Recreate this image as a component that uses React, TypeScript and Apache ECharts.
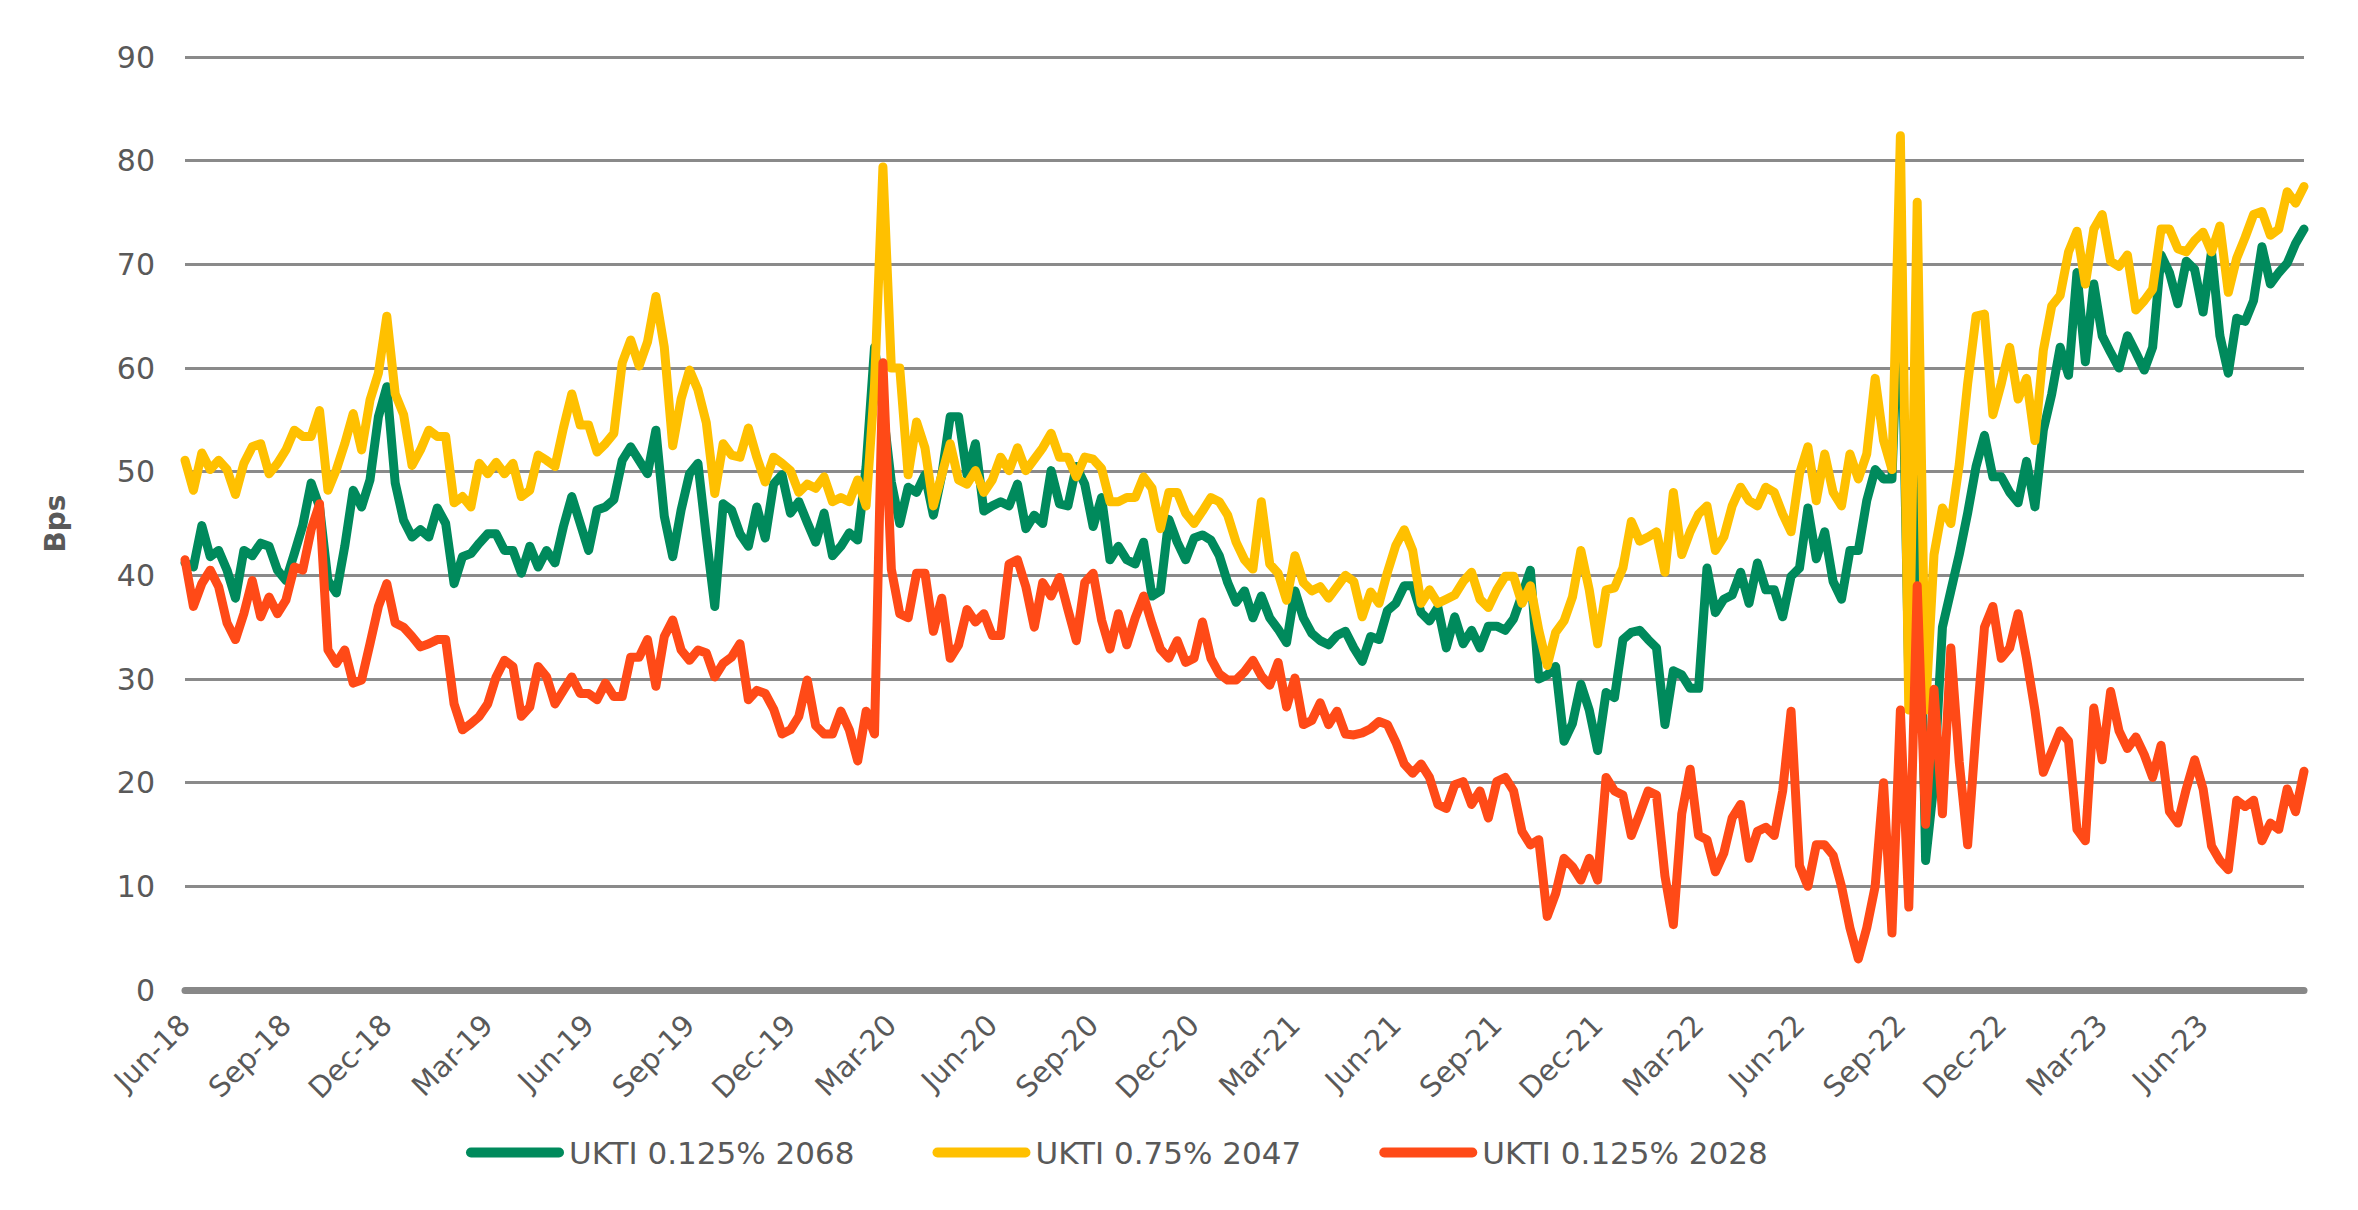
import React, { useEffect, useRef } from "react";
import * as echarts from "echarts";

// Quarter tick labels (every 3 months starting at end of Jun 2018)
const quarterLabels = [
  "Jun-18", "Sep-18", "Dec-18", "Mar-19", "Jun-19", "Sep-19", "Dec-19",
  "Mar-20", "Jun-20", "Sep-20", "Dec-20", "Mar-21", "Jun-21", "Sep-21",
  "Dec-21", "Mar-22", "Jun-22", "Sep-22", "Dec-22", "Mar-23", "Jun-23",
];

// Sampling step: values every quarter of a month from end of Jun-18
const stepMonths = 0.25;

// UKTI 0.125% 2068 (green), one row per month (4 weekly samples)
const ukti2068 = [
  41.2, 40.8, 44.8, 41.8,
  42.4, 40.5, 37.8, 42.4,
  41.9, 43.1, 42.8, 40.5,
  39.5, 42.1, 44.8, 48.9,
  46.6, 39.5, 38.3, 42.8,
  48.2, 46.6, 49.2, 55.3,
  58.2, 48.9, 45.3, 43.7,
  44.4, 43.7, 46.5, 45,
  39.2, 41.8, 42.1, 43.1,
  44, 44, 42.4, 42.4,
  40.2, 42.8, 40.8, 42.4,
  41.2, 44.7, 47.6, 45,
  42.4, 46.3, 46.6, 47.3,
  51.1, 52.4, 51.1, 49.8,
  54, 45.7, 41.8, 46.3,
  49.8, 50.8, 43.7, 37,
  46.9, 46.3, 44, 42.8,
  46.6, 43.6, 48.8, 49.7,
  46, 47.1, 45.1, 43.2,
  46, 41.9, 42.8, 44.1,
  43.4, 50.5, 62, 56,
  49, 45, 48.5, 48,
  49.7, 45.8, 49.7, 55.3,
  55.3, 49.7, 52.7, 46.2,
  46.7, 47.1, 46.7, 48.8,
  44.5, 45.8, 45, 50.1,
  46.9, 46.7, 50.5, 48.8,
  44.7, 47.5, 41.5, 42.8,
  41.5, 41.1, 43.2, 38,
  38.5, 45.4, 43.2, 41.5,
  43.6, 43.9, 43.4, 41.9,
  39.3, 37.4, 38.5, 35.9,
  38, 35.9, 34.8, 33.5,
  38.5, 35.9, 34.4, 33.7,
  33.3, 34.2, 34.6, 33,
  31.7, 34.1, 33.8, 36.6,
  37.3, 39, 39, 36.4,
  35.6, 36.9, 33, 36,
  33.4, 34.7, 33, 35.1,
  35.1, 34.7, 35.8, 38.1,
  40.5, 30, 30.4, 31.2,
  24, 25.7, 29.5, 27,
  23.1, 28.7, 28.2, 33.8,
  34.5, 34.7, 33.8, 33,
  25.6, 30.8, 30.4, 29.1,
  29.1, 40.7, 36.4, 37.7,
  38.1, 40.3, 37.3, 41.2,
  38.6, 38.6, 36, 39.9,
  40.7, 46.5, 41.6, 44.2,
  39.4, 37.7, 42.4, 42.4,
  47.2, 50.2, 49.3, 49.3,
  72, 30, 55, 12.5,
  20, 35, 38.5, 42,
  46, 50.5, 53.5, 49.5,
  49.5, 48, 47, 51,
  46.6, 54, 57.5, 62,
  59.3, 69.2, 60.6, 68.1,
  63.1, 61.5, 60, 63.1,
  61.5, 59.8, 62, 70.9,
  69.2, 66.2, 70.3, 69.5,
  65.4, 71.2, 63.1, 59.5,
  64.8, 64.5, 66.5, 71.7,
  68.1, 69.2, 70.1, 72,
  73.4,
];

// UKTI 0.75% 2047 (yellow)
const ukti2047 = [
  51.1, 48.2, 51.8, 50.2,
  51.1, 50.2, 47.8, 50.8,
  52.4, 52.7, 49.8, 50.8,
  52.1, 54, 53.4, 53.4,
  55.9, 48.2, 50.2, 52.7,
  55.6, 52.1, 56.9, 59.5,
  65, 57.5, 55.5, 50.6,
  52.1, 54, 53.4, 53.4,
  47, 47.6, 46.6, 50.8,
  49.8, 50.9, 49.8, 50.8,
  47.6, 48.2, 51.6, 51.1,
  50.5, 54.2, 57.5, 54.5,
  54.5, 51.9, 52.7, 53.7,
  60.5, 62.7, 60.2, 62.5,
  66.9, 62, 52.5, 57,
  59.8, 57.9, 54.7, 47.9,
  52.7, 51.6, 51.4, 54.2,
  51.4, 49, 51.4, 50.8,
  50.1, 48, 48.8, 48.4,
  49.5, 47.1, 47.5, 47.1,
  49.2, 46.7, 58.3, 79.4,
  60, 60, 49.7, 54.8,
  52.3, 46.7, 49.7, 52.7,
  49.2, 48.8, 50.1, 48,
  49.2, 51.4, 50.1, 52.3,
  50.1, 51.2, 52.3, 53.7,
  51.4, 51.4, 49.5, 51.4,
  51.2, 50.3, 47.1, 47.1,
  47.5, 47.5, 49.5, 48.4,
  44.5, 48, 48, 46,
  45, 46.2, 47.5, 47.1,
  45.8, 43.2, 41.5, 40.6,
  47.1, 41.1, 40.2, 37.6,
  41.9, 39.3, 38.5, 38.9,
  37.8, 38.9, 40, 39.4,
  36, 38.4, 37.3, 40.3,
  42.9, 44.4, 42.4, 37.3,
  38.6, 37.3, 37.7, 38.1,
  39.4, 40.3, 37.7, 36.9,
  38.6, 39.9, 39.9, 37.3,
  39, 34.7, 31.3, 34.5,
  35.6, 37.9, 42.4, 38.6,
  33.4, 38.6, 38.8, 40.7,
  45.2, 43.3, 43.7, 44.2,
  40.3, 48, 42, 44.2,
  45.9, 46.7, 42.4, 43.7,
  46.7, 48.5, 47.2, 46.7,
  48.5, 48, 45.9, 44.2,
  49.8, 52.4, 47.2, 51.7,
  48, 46.7, 51.7, 49.3,
  51.7, 59, 53, 50.2,
  82.4, 27, 76, 27,
  42, 46.5, 45, 50.7,
  58.5, 65, 65.2, 55.5,
  58.5, 62, 57, 59,
  53, 61.7, 66, 67,
  71.2, 73.2, 68.1, 73.4,
  74.8, 70.3, 69.8, 70.9,
  65.6, 66.5, 67.6, 73.4,
  73.4, 71.5, 71.2, 72.3,
  73.1, 71.2, 73.7, 67.3,
  70.6, 72.6, 74.8, 75.1,
  72.8, 73.4, 77, 75.9,
  77.5,
];

// UKTI 0.125% 2028 (orange-red)
const ukti2028 = [
  41.5, 37, 39.2, 40.5,
  38.9, 35.4, 33.8, 36.3,
  39.5, 36, 37.9, 36.3,
  37.6, 40.8, 40.5, 44.4,
  46.9, 32.8, 31.5, 32.8,
  29.6, 29.9, 33.4, 37,
  39.2, 35.4, 35, 34.1,
  33.1, 33.4, 33.8, 33.8,
  27.6, 25.1, 25.7, 26.4,
  27.6, 30.2, 31.8, 31.2,
  26.4, 27.3, 31.2, 30.2,
  27.6, 28.9, 30.2, 28.6,
  28.6, 28, 29.6, 28.3,
  28.3, 32.1, 32.1, 33.8,
  29.3, 34.1, 35.7, 32.8,
  31.8, 32.8, 32.5, 30.2,
  31.5, 32.1, 33.4, 28,
  28.9, 28.6, 27.1, 24.7,
  25.1, 26.4, 29.9, 25.5,
  24.7, 24.7, 26.9, 25.1,
  22.1, 26.9, 24.7, 60.5,
  40.6, 36.3, 35.9, 40.2,
  40.2, 34.6, 37.8, 32,
  33.3, 36.7, 35.5, 36.3,
  34.2, 34.2, 41.1, 41.5,
  38.9, 35, 39.3, 38,
  39.8, 36.7, 33.7, 39.3,
  40.2, 35.7, 32.9, 36.3,
  33.3, 35.9, 38, 35.3,
  32.9, 32, 33.7, 31.6,
  32, 35.5, 32, 30.5,
  29.9, 29.9, 30.7, 31.8,
  30.3, 29.4, 31.6, 27.3,
  30.1, 25.6, 26, 27.7,
  25.6, 26.9, 24.7, 24.6,
  24.8, 25.2, 25.9, 25.6,
  23.9, 21.8, 20.9, 21.8,
  20.5, 17.9, 17.5, 19.8,
  20.1, 17.9, 19.2, 16.6,
  20.1, 20.5, 19.2, 15.3,
  14, 14.5, 7.1, 9.3,
  12.7, 11.9, 10.6, 12.7,
  10.6, 20.5, 19.2, 18.8,
  14.9, 17, 19.2, 18.8,
  11, 6.3, 17, 21.3,
  14.9, 14.5, 11.4, 13.2,
  16.6, 17.9, 12.7, 15.3,
  15.7, 14.9, 19.2, 26.9,
  12, 10, 14, 14,
  13, 10, 6, 3,
  6, 10, 20, 5.5,
  27, 8, 39, 16,
  29, 17, 33, 22,
  14, 25, 35, 37,
  32, 33, 36.3, 32,
  27, 21, 23, 25,
  24, 15.5, 14.4, 27.2,
  22.2, 28.8, 25, 23.3,
  24.4, 22.7, 20.5, 23.6,
  17.2, 16.1, 19.4, 22.2,
  19.4, 13.9, 12.5, 11.6,
  18.3, 17.7, 18.3, 14.4,
  16.1, 15.5, 19.4, 17.2,
  21.1,
];

const seriesNames = ["UKTI 0.125% 2068", "UKTI 0.75% 2047", "UKTI 0.125% 2028"];
const seriesColors = ["#008A5C", "#FFC000", "#FF4A17"];
const seriesValues = [ukti2068, ukti2047, ukti2028];

const FONT = "DejaVu Sans";
const TEXT_COLOR = "#595959";

export default function App() {
  const ref = useRef<HTMLDivElement>(null);

  useEffect(() => {
    if (!ref.current) return;
    const chart = echarts.init(ref.current, null, { renderer: "svg" });

    const series = seriesValues.map((vals, k) => ({
      name: seriesNames[k],
      type: "line",
      data: vals.map((v, i) => [i * stepMonths, v]),
      showSymbol: false,
      symbol: "none",
      smooth: false,
      color: seriesColors[k],
      lineStyle: { width: 9, color: seriesColors[k], cap: "round", join: "round" },
      z: 2 + k,
    }));

    chart.setOption({
      animation: false,
      backgroundColor: "#ffffff",
      grid: { left: 185, right: 54, top: 57, bottom: 220, containLabel: false },
      legend: {
        left: 461,
        top: 1132,
        itemWidth: 98,
        itemHeight: 10,
        itemGap: 78,
        icon: "path://M5 0H93A5 5 0 0 1 93 10H5A5 5 0 0 1 5 0Z",
        textStyle: { fontFamily: FONT, fontSize: 31, color: TEXT_COLOR },
        data: seriesNames,
      },
      xAxis: {
        type: "value",
        min: 0,
        max: 63,
        interval: 3,
        splitLine: { show: false },
        axisTick: { show: false },
        axisLine: { show: true, onZero: false, lineStyle: { color: "#888888", width: 7 } },
        axisLabel: {
          rotate: 45,
          margin: 30,
          fontFamily: FONT,
          fontSize: 29,
          color: TEXT_COLOR,
          showMaxLabel: false,
          formatter: (v: number) => quarterLabels[Math.round(v / 3)] ?? "",
        },
      },
      yAxis: {
        type: "value",
        min: 0,
        max: 90,
        interval: 10,
        name: "Bps",
        nameLocation: "middle",
        nameRotate: 90,
        nameGap: 116,
        nameTextStyle: { fontFamily: FONT, fontSize: 28, fontWeight: "bold", color: TEXT_COLOR },
        axisLine: { show: false },
        axisTick: { show: false },
        axisLabel: { margin: 30, fontFamily: FONT, fontSize: 30, color: TEXT_COLOR },
        splitLine: { show: true, lineStyle: { color: "#8a8a8a", width: 3 } },
      },
      series,
    });

    return () => chart.dispose();
  }, []);

  return (
    <div
      ref={ref}
      style={{ position: "fixed", left: 0, top: 0, width: 2358, height: 1210, background: "#fff" }}
    />
  );
}
